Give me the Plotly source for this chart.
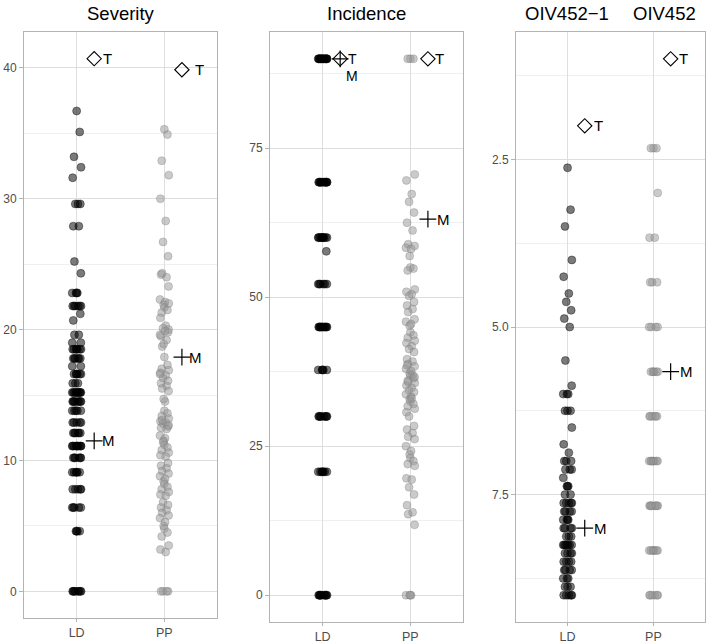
import plotly.graph_objects as go

# ---------------- data ----------------
categories = ["LD", "PP"]

severity_LD = [36.7, 35.1, 33.2, 32.4, 31.6, 29.6, 29.6, 29.6, 27.9, 27.9, 25.2, 24.3,
               22.8, 22.8, 22.8, 22.8, 21.8, 21.8, 21.8, 21.8, 21.8, 21.8, 21.2, 20.7,
               19.6, 19.6, 19.0, 19.0, 18.5, 18.5, 18.5, 18.5, 18.5, 18.5, 18.5,
               17.8, 17.8, 17.8, 17.8, 17.8, 17.8, 17.2, 17.2,
               16.6, 16.6, 16.6, 16.6, 16.6, 16.6, 15.9, 15.9, 15.9,
               15.2, 15.2, 15.2, 15.2, 15.2, 15.2, 15.2, 15.2, 15.2, 15.2,
               14.5, 14.5, 14.5, 14.5, 14.5, 14.5, 14.5, 14.5,
               13.8, 13.8, 13.8, 13.8, 13.8, 12.9, 12.9, 12.9, 12.9, 12.9,
               12.1, 12.1, 12.1, 12.1, 12.1, 12.1,
               11.1, 11.1, 11.1, 11.1, 11.1, 11.1, 11.1, 11.1, 11.1, 11.1,
               10.2, 10.2, 10.2, 10.2, 10.2, 10.2, 9.1, 9.1, 9.1, 9.1, 9.1, 9.1,
               7.8, 7.8, 7.8, 7.8, 7.8, 6.4, 6.4, 6.4, 6.4, 6.4, 4.6, 4.6, 4.6, 4.6,
               0, 0, 0, 0, 0, 0, 0, 0]
severity_PP = [35.3, 34.9, 32.9, 31.8, 30.0, 28.3, 26.7, 25.6, 24.2, 24.0, 24.3, 23.3,
               22.3, 22.1, 21.9, 21.7, 21.5, 21.3, 22.0, 20.9, 20.3, 20.1, 19.8, 19.5,
               19.2, 18.7, 20.0, 19.6, 19.9, 18.9, 17.9, 17.3, 17.0, 16.9, 16.7, 16.5,
               16.3, 16.1, 15.9, 15.7, 15.5, 15.3, 16.6, 14.5, 14.7, 13.8, 13.6, 13.4,
               13.2, 13.0, 12.9, 12.8, 12.6, 12.5, 12.4, 13.1, 12.7, 11.9, 11.7, 11.5,
               11.2, 11.0, 10.8, 10.6, 10.4, 10.3, 11.4, 9.8, 9.6, 9.4, 9.2, 9.0, 8.8,
               8.6, 8.4, 8.2, 8.0, 7.8, 7.6, 7.4, 7.3, 6.8, 6.6, 6.4, 6.2, 6.0, 5.8,
               5.6, 5.3, 5.0, 4.8, 4.5, 4.2, 3.5, 3.2, 3.0, 0, 0, 0, 0]
severity_T = [40.7, 39.85]
severity_M = [11.5, 17.9]

incidence_LD = [90, 90, 90, 90, 90, 90, 90, 90, 90, 90, 90, 90, 90, 90, 90,
                69.3, 69.3, 69.3, 69.3, 69.3, 69.3, 69.3, 69.3, 69.3, 69.3, 69.3, 69.3,
                60.0, 60.0, 60.0, 60.0, 60.0, 60.0, 60.0, 60.0, 60.0, 60.0, 57.7,
                52.2, 52.2, 52.2, 52.2, 52.2, 52.2,
                45.0, 45.0, 45.0, 45.0, 45.0, 45.0, 45.0, 45.0, 45.0, 45.0, 45.0, 45.0,
                37.8, 37.8, 37.8, 37.8, 37.8,
                30.0, 30.0, 30.0, 30.0, 30.0, 30.0, 30.0, 30.0,
                20.7, 20.7, 20.7, 20.7, 20.7, 20.7, 20.7,
                0, 0, 0, 0, 0, 0, 0, 0, 0, 0]
incidence_PP = [90, 90, 90,
                70.6, 69.6, 67.3, 66.0, 64.2, 62.5, 61.2, 58.9, 58.6, 58.3, 58.1, 56.9,
                55.0, 54.8, 54.5, 51.3, 50.9, 50.5, 50.2, 49.2, 48.6, 48.0, 47.5, 46.3,
                45.9, 45.5, 45.2, 44.1, 43.6, 43.2, 42.7, 42.3, 41.8, 41.3, 40.8, 39.6,
                39.2, 38.8, 38.4, 38.0, 37.6, 37.2, 36.8, 36.4, 36.0, 35.6, 35.2, 34.8,
                34.4, 34.1, 38.6, 37.0, 35.8, 36.6, 33.7, 33.3, 32.9, 32.5, 32.1, 31.7,
                31.3, 30.7, 33.0, 30.0, 28.4, 27.8, 27.2, 26.6, 26.2, 25.0, 24.2, 23.6,
                23.0, 22.5, 22.0, 21.7, 19.6, 19.4, 18.1, 16.9, 15.1, 13.9, 13.6, 11.8,
                0, 0, 0, 0]
incidence_T = [90.0, 90.0]
incidence_M = [90.0, 63.1]

oiv_LD = [2.625, 3.25, 3.5, 4.0, 4.25, 4.5, 4.625, 4.75, 4.875, 5.0, 5.5, 5.875,
          6.0, 6.0, 6.0, 6.25, 6.25, 6.25, 6.5, 6.75, 6.875, 7.0, 7.0, 7.0,
          7.125, 7.125, 7.125, 7.25, 7.375, 7.375, 7.375, 7.5, 7.5,
          7.625, 7.625, 7.625, 7.625, 7.625, 7.75, 7.75, 7.75, 7.75,
          7.875, 7.875, 7.875, 7.875, 8.0, 8.0, 8.0, 8.0, 8.125, 8.125, 8.125,
          8.25, 8.25, 8.25, 8.25, 8.25, 8.25, 8.25, 8.375, 8.375, 8.375, 8.375,
          8.5, 8.5, 8.5, 8.5, 8.625, 8.625, 8.625, 8.625, 8.75, 8.75, 8.75,
          8.875, 8.875, 8.875, 9.0, 9.0, 9.0, 9.0, 9.0]
oiv_PP = [2.333, 2.333, 2.333, 3.0, 3.667, 3.667, 4.333, 4.333, 4.333,
          5.0, 5.0, 5.0, 5.0, 5.667, 5.667, 5.667, 5.667, 5.667, 5.667,
          6.333, 6.333, 6.333, 6.333, 6.333, 6.333,
          7.0, 7.0, 7.0, 7.0, 7.0, 7.0, 7.0, 7.0,
          7.667, 7.667, 7.667, 7.667, 7.667, 7.667, 7.667, 7.667,
          8.333, 8.333, 8.333, 8.333, 8.333, 8.333, 8.333,
          9.0, 9.0, 9.0, 9.0, 9.0, 9.0]
oiv_T = [2.0, 1.0]
oiv_M = [8.0, 5.667]

panel_titles = ["Severity", "Incidence"]
oiv_titles = ["OIV452\u22121", "OIV452"]

# ---------------- style ----------------
W, H = 709, 644
JIT = [0.0, 0.035, -0.03, 0.05, -0.045, 0.015, -0.015, 0.042, -0.038, 0.025,
       -0.025, 0.048, -0.05, 0.008, -0.008]
LD_FILL = "rgba(0,0,0,0.52)"
LD_LINE = "rgba(0,0,0,0.55)"
PP_FILL = "rgba(150,150,150,0.5)"
PP_LINE = "rgba(120,120,120,0.45)"
FONT = "Liberation Sans, Arial, sans-serif"

panels = [
    dict(ld=severity_LD, pp=severity_PP, T=severity_T, M=severity_M,
         xdom=(24, 217), ybot=618, rng=[-2.035, 42.735], dtick=10, minor=5, fmt="d",
         tshift=[7, 11], mshift=[6, 5], myshift=[0, 0], lsize=[15, 15]),
    dict(ld=incidence_LD, pp=incidence_PP, T=incidence_T, M=incidence_M,
         xdom=(270, 463), ybot=622, rng=[-4.5, 94.5], dtick=25, minor=12.5, fmt="d",
         tshift=[6, 5], mshift=[4, 7], myshift=[-17, 0], lsize=[14, 15]),
    dict(ld=oiv_LD, pp=oiv_PP, T=oiv_T, M=oiv_M,
         xdom=(516, 705), ybot=622, rng=[9.4, 0.6], dtick=2.5, minor=1.25, fmt=".1f",
         tshift=[7, 6], mshift=[7, 7], myshift=[0, 0], lsize=[15, 15]),
]

fig = go.Figure()
annotations = []
layout = {}

for i, p in enumerate(panels):
    sfx = "" if i == 0 else str(i + 1)
    xa, ya = "x" + sfx, "y" + sfx
    for ci, (vals, fill, line) in enumerate([(p["ld"], LD_FILL, LD_LINE),
                                             (p["pp"], PP_FILL, PP_LINE)]):
        xs = [ci + 1 + JIT[k % len(JIT)] for k in range(len(vals))]
        fig.add_trace(go.Scatter(
            x=xs, y=vals, mode="markers", xaxis=xa, yaxis=ya, showlegend=False,
            marker=dict(size=8, color=fill, line=dict(width=0.7, color=line))))
    mx = [1.2, 2.2]
    fig.add_trace(go.Scatter(
        x=mx, y=p["T"], mode="markers", xaxis=xa, yaxis=ya, showlegend=False,
        marker=dict(symbol="diamond-open", size=11, color="black",
                    line=dict(width=1.1, color="black"))))
    fig.add_trace(go.Scatter(
        x=mx, y=p["M"], mode="markers", xaxis=xa, yaxis=ya, showlegend=False,
        marker=dict(symbol="cross-thin-open", size=12, color="black",
                    line=dict(width=1.2, color="black"))))
    for k in range(2):
        fs = p["lsize"][k]
        annotations.append(dict(x=mx[k], y=p["T"][k], xref=xa, yref=ya, text="T",
                                showarrow=False, xanchor="left", yanchor="middle",
                                xshift=p["tshift"][k],
                                font=dict(family=FONT, size=fs, color="black")))
        annotations.append(dict(x=mx[k], y=p["M"][k], xref=xa, yref=ya, text="M",
                                showarrow=False, xanchor="left", yanchor="middle",
                                xshift=p["mshift"][k], yshift=p["myshift"][k],
                                font=dict(family=FONT, size=fs, color="black")))
    x0, x1 = p["xdom"]
    layout["xaxis" + sfx] = dict(
        domain=[x0 / W, x1 / W], range=[0.4, 2.6], anchor=ya,
        tickvals=[1, 2], ticktext=categories, ticks="outside", ticklen=3,
        tickcolor="#b3b3b3", showgrid=True, gridcolor="#dedede", gridwidth=1,
        showline=True, linecolor="#b3b3b3", linewidth=1, mirror=True, zeroline=False,
        tickfont=dict(family=FONT, size=12.5, color="#4d4d4d"))
    layout["yaxis" + sfx] = dict(
        domain=[(H - p["ybot"]) / H, (H - 32) / H], range=p["rng"], anchor=xa,
        dtick=p["dtick"], tick0=0, tickformat=p["fmt"], ticks="outside", ticklen=4,
        tickcolor="#b3b3b3", showgrid=True, gridcolor="#dedede", gridwidth=1,
        minor=dict(dtick=p["minor"], tick0=0, showgrid=True, gridcolor="#efefef",
                   gridwidth=1, ticks=""),
        showline=True, linecolor="#b3b3b3", linewidth=1, mirror=True, zeroline=False,
        tickfont=dict(family=FONT, size=12, color="#4d4d4d"))

title_pos = [((24 + 217) / 2, panel_titles[0]), ((270 + 463) / 2, panel_titles[1]),
             (566.5, oiv_titles[0]), (664, oiv_titles[1])]
for xp, txt in title_pos:
    annotations.append(dict(x=xp / W, y=1 - 13 / H, xref="paper", yref="paper",
                            text=txt, showarrow=False, xanchor="center",
                            yanchor="middle",
                            font=dict(family=FONT, size=18.5, color="black")))

fig.update_layout(width=W, height=H, margin=dict(l=0, r=0, t=0, b=0),
                  paper_bgcolor="white", plot_bgcolor="white",
                  annotations=annotations, **layout)
fig.write_html("out.html", config={"displayModeBar": False},
               post_script="document.body.style.margin='0';"
                           "document.body.style.padding='0';"
                           "document.body.style.overflow='hidden';")
